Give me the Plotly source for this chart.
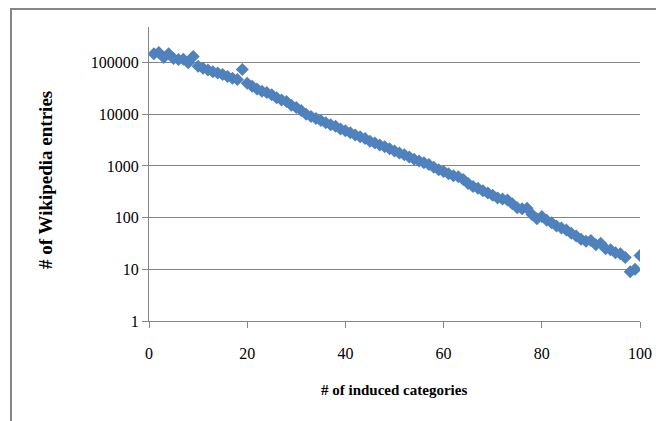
import plotly.graph_objects as go

categories = list(range(1, 101))
entries = [
    148000, 158000, 126000, 148000, 120000, 115000, 117000, 100000, 132000, 85000,
    78000, 72000, 67000, 63000, 59000, 54000, 50000, 47000, 74000, 40000,
    35000, 31000, 28000, 26500, 24000, 21000, 19000, 17800, 15000, 13500,
    11800, 10000, 9100, 8300, 7600, 6900, 6300, 5900, 5200, 4800,
    4400, 4000, 3700, 3400, 3000, 2800, 2550, 2350, 2150, 1950,
    1780, 1650, 1500, 1350, 1250, 1150, 1070, 950, 850, 780,
    710, 650, 620, 550, 460, 400, 370, 330, 300, 270,
    240, 230, 220, 185, 155, 148, 152, 115, 95, 105,
    89, 80, 69, 63, 58, 50, 44, 38, 35, 36,
    30, 32, 25, 24, 21, 20, 17, 9, 10, 18.5,
]
x_ticks = [0, 20, 40, 60, 80, 100]
y_ticks = [1, 10, 100, 1000, 10000, 100000]
y_tick_labels = ["1", "10", "100", "1000", "10000", "100000"]
x_title = "# of induced categories"
y_title = "# of Wikipedia entries"

grey = "#868686"
serif = "Liberation Serif, Times New Roman, serif"

# the page has an 8px body margin, so the figure starts at (8, 8)
OFF = 8
L, R, T, B = 149, 640, 27, 321  # plot area in screen pixels
PW, PH = R - L, B - T


def px(x):
    return (x - L) / PW


def py(y):
    return (B - y) / PH


fig = go.Figure(go.Scatter(
    x=categories, y=entries, mode="markers",
    marker=dict(symbol="diamond", size=10, color="#4F81BD", line=dict(width=0)),
    hoverinfo="skip",
))

fig.update_layout(
    width=664 - OFF, height=421 - OFF,
    margin=dict(l=L - OFF, r=664 - R, t=T - OFF, b=421 - B),
    paper_bgcolor="white", plot_bgcolor="white",
    showlegend=False,
    font=dict(family=serif, size=14, color="black"),
    xaxis=dict(
        range=[0, 100], tickvals=x_ticks, showgrid=False, zeroline=False,
        showline=True, linecolor=grey, linewidth=1,
        ticks="outside", ticklen=6, tickcolor=grey,
        ticklabelstandoff=12,
        tickfont=dict(family=serif, size=16),
    ),
    yaxis=dict(
        type="log", range=[0, 5.69], tickvals=y_ticks, ticktext=y_tick_labels,
        showgrid=True, gridcolor=grey, gridwidth=1, zeroline=False,
        showline=True, linecolor=grey, linewidth=1,
        ticks="outside", ticklen=6, tickcolor=grey,
        ticklabelstandoff=0,
        tickfont=dict(family=serif, size=16),
    ),
    shapes=[dict(
        type="rect", xref="paper", yref="paper",
        x0=px(11), x1=px(690),
        y0=py(450), y1=py(9),
        line=dict(color=grey, width=2), fillcolor="rgba(0,0,0,0)", layer="below",
    )],
    annotations=[
        dict(text=x_title, xref="paper", yref="paper",
             x=px(394), y=py(390),
             xanchor="center", yanchor="middle", showarrow=False,
             font=dict(family=serif, size=15, color="black", weight="bold")),
        dict(text=y_title, xref="paper", yref="paper",
             x=px(45), y=py(180),
             xanchor="center", yanchor="middle", showarrow=False, textangle=-90,
             font=dict(family=serif, size=19, color="black", weight="bold")),
    ],
)

fig.write_html("out.html")
